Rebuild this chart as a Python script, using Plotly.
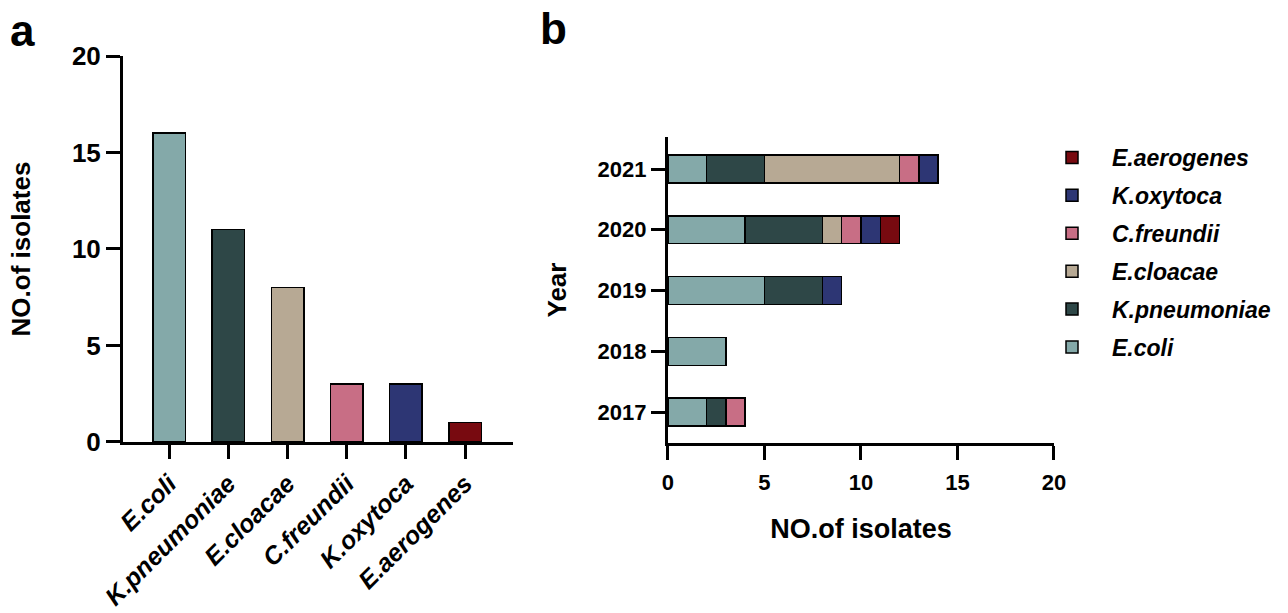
import plotly.graph_objects as go

# ---------------- data ----------------
species = ["E.coli", "K.pneumoniae", "E.cloacae", "C.freundii", "K.oxytoca", "E.aerogenes"]
totals = [16, 11, 8, 3, 3, 1]
colors = ["#84A9A9", "#2E4747", "#B7A994", "#C86E85", "#2D3674", "#780A10"]

years = ["2017", "2018", "2019", "2020", "2021"]
ecoli = [2, 3, 5, 4, 2]
kpneumoniae = [1, 0, 3, 4, 3]
ecloacae = [0, 0, 0, 1, 7]
cfreundii = [1, 0, 0, 1, 1]
koxytoca = [0, 0, 1, 1, 1]
eaerogenes = [0, 0, 0, 1, 0]
by_year = [ecoli, kpneumoniae, ecloacae, cfreundii, koxytoca, eaerogenes]

x_ticks_b = [0, 5, 10, 15, 20]
y_ticks_a = [0, 5, 10, 15, 20]

FONT = "Liberation Sans"

fig = go.Figure()

# panel a
fig.add_trace(go.Bar(
    x=species, y=totals, width=0.55,
    marker=dict(color=colors, line=dict(color="black", width=1.5)),
    showlegend=False, xaxis="x", yaxis="y",
))

# panel b
for i, (name, vals, col) in enumerate(zip(species, by_year, colors)):
    fig.add_trace(go.Bar(
        y=years, x=[v if v else None for v in vals], orientation="h", name=name,
        width=0.46, legendgroup=name, legendrank=1000 - i,
        marker=dict(color=col, line=dict(color="black", width=1.5)),
        xaxis="x2", yaxis="y2",
    ))

axis_common = dict(showline=True, linecolor="black", linewidth=3, ticks="outside",
                   ticklen=14, tickwidth=3, tickcolor="black", showgrid=False,
                   zeroline=False, automargin=False)

fig.update_layout(
    width=1288, height=613,
    margin=dict(l=0, r=0, t=0, b=0, autoexpand=False),
    paper_bgcolor="white", plot_bgcolor="white",
    barmode="stack",
    font=dict(family=FONT, color="black"),
    xaxis=dict(domain=[0.0955, 0.3983], anchor="y", type="category",
               range=[-0.78, 5.81], tickangle=-45,
               tickfont=dict(size=25, weight="bold", style="italic"),
               **axis_common),
    yaxis=dict(domain=[0.2790, 0.9086], anchor="x", range=[0, 20],
               tickvals=y_ticks_a, tickfont=dict(size=26, weight="bold"),
               title=dict(text="NO.of isolates", font=dict(size=26, weight="bold"), standoff=34),
               **axis_common),
    xaxis2=dict(domain=[0.5186, 0.8183], anchor="y2", range=[0, 20],
                tickvals=x_ticks_b, tickfont=dict(size=22, weight="bold"),
                ticklabelstandoff=4,
                title=dict(text="NO.of isolates", font=dict(size=27, weight="bold"), standoff=25),
                **axis_common),
    yaxis2=dict(domain=[0.2773, 0.7765], anchor="x2", type="category",
                categoryorder="array", categoryarray=years, range=[-0.51, 4.527],
                tickfont=dict(size=22, weight="bold"),
                title=dict(text="Year", font=dict(size=26, weight="bold"), standoff=24),
                **axis_common),
    legend=dict(x=1032 / 1288, y=1 - 136 / 613, xanchor="left", yanchor="top",
                traceorder="grouped", tracegroupgap=5, itemwidth=70,
                font=dict(size=23, weight="bold", style="italic"),
                bgcolor="rgba(0,0,0,0)"),
    annotations=[
        dict(text="a", x=8 / 1288, y=1 - 4 / 613, xref="paper", yref="paper",
             xanchor="left", yanchor="top", showarrow=False,
             font=dict(size=44, weight="bold")),
        dict(text="b", x=538 / 1288, y=1 - 2 / 613, xref="paper", yref="paper",
             xanchor="left", yanchor="top", showarrow=False,
             font=dict(size=44, weight="bold")),
    ],
)

fig.write_html("out.html", config={"displayModeBar": False},
               post_script="document.body.style.margin='0';document.body.style.padding='0';")
